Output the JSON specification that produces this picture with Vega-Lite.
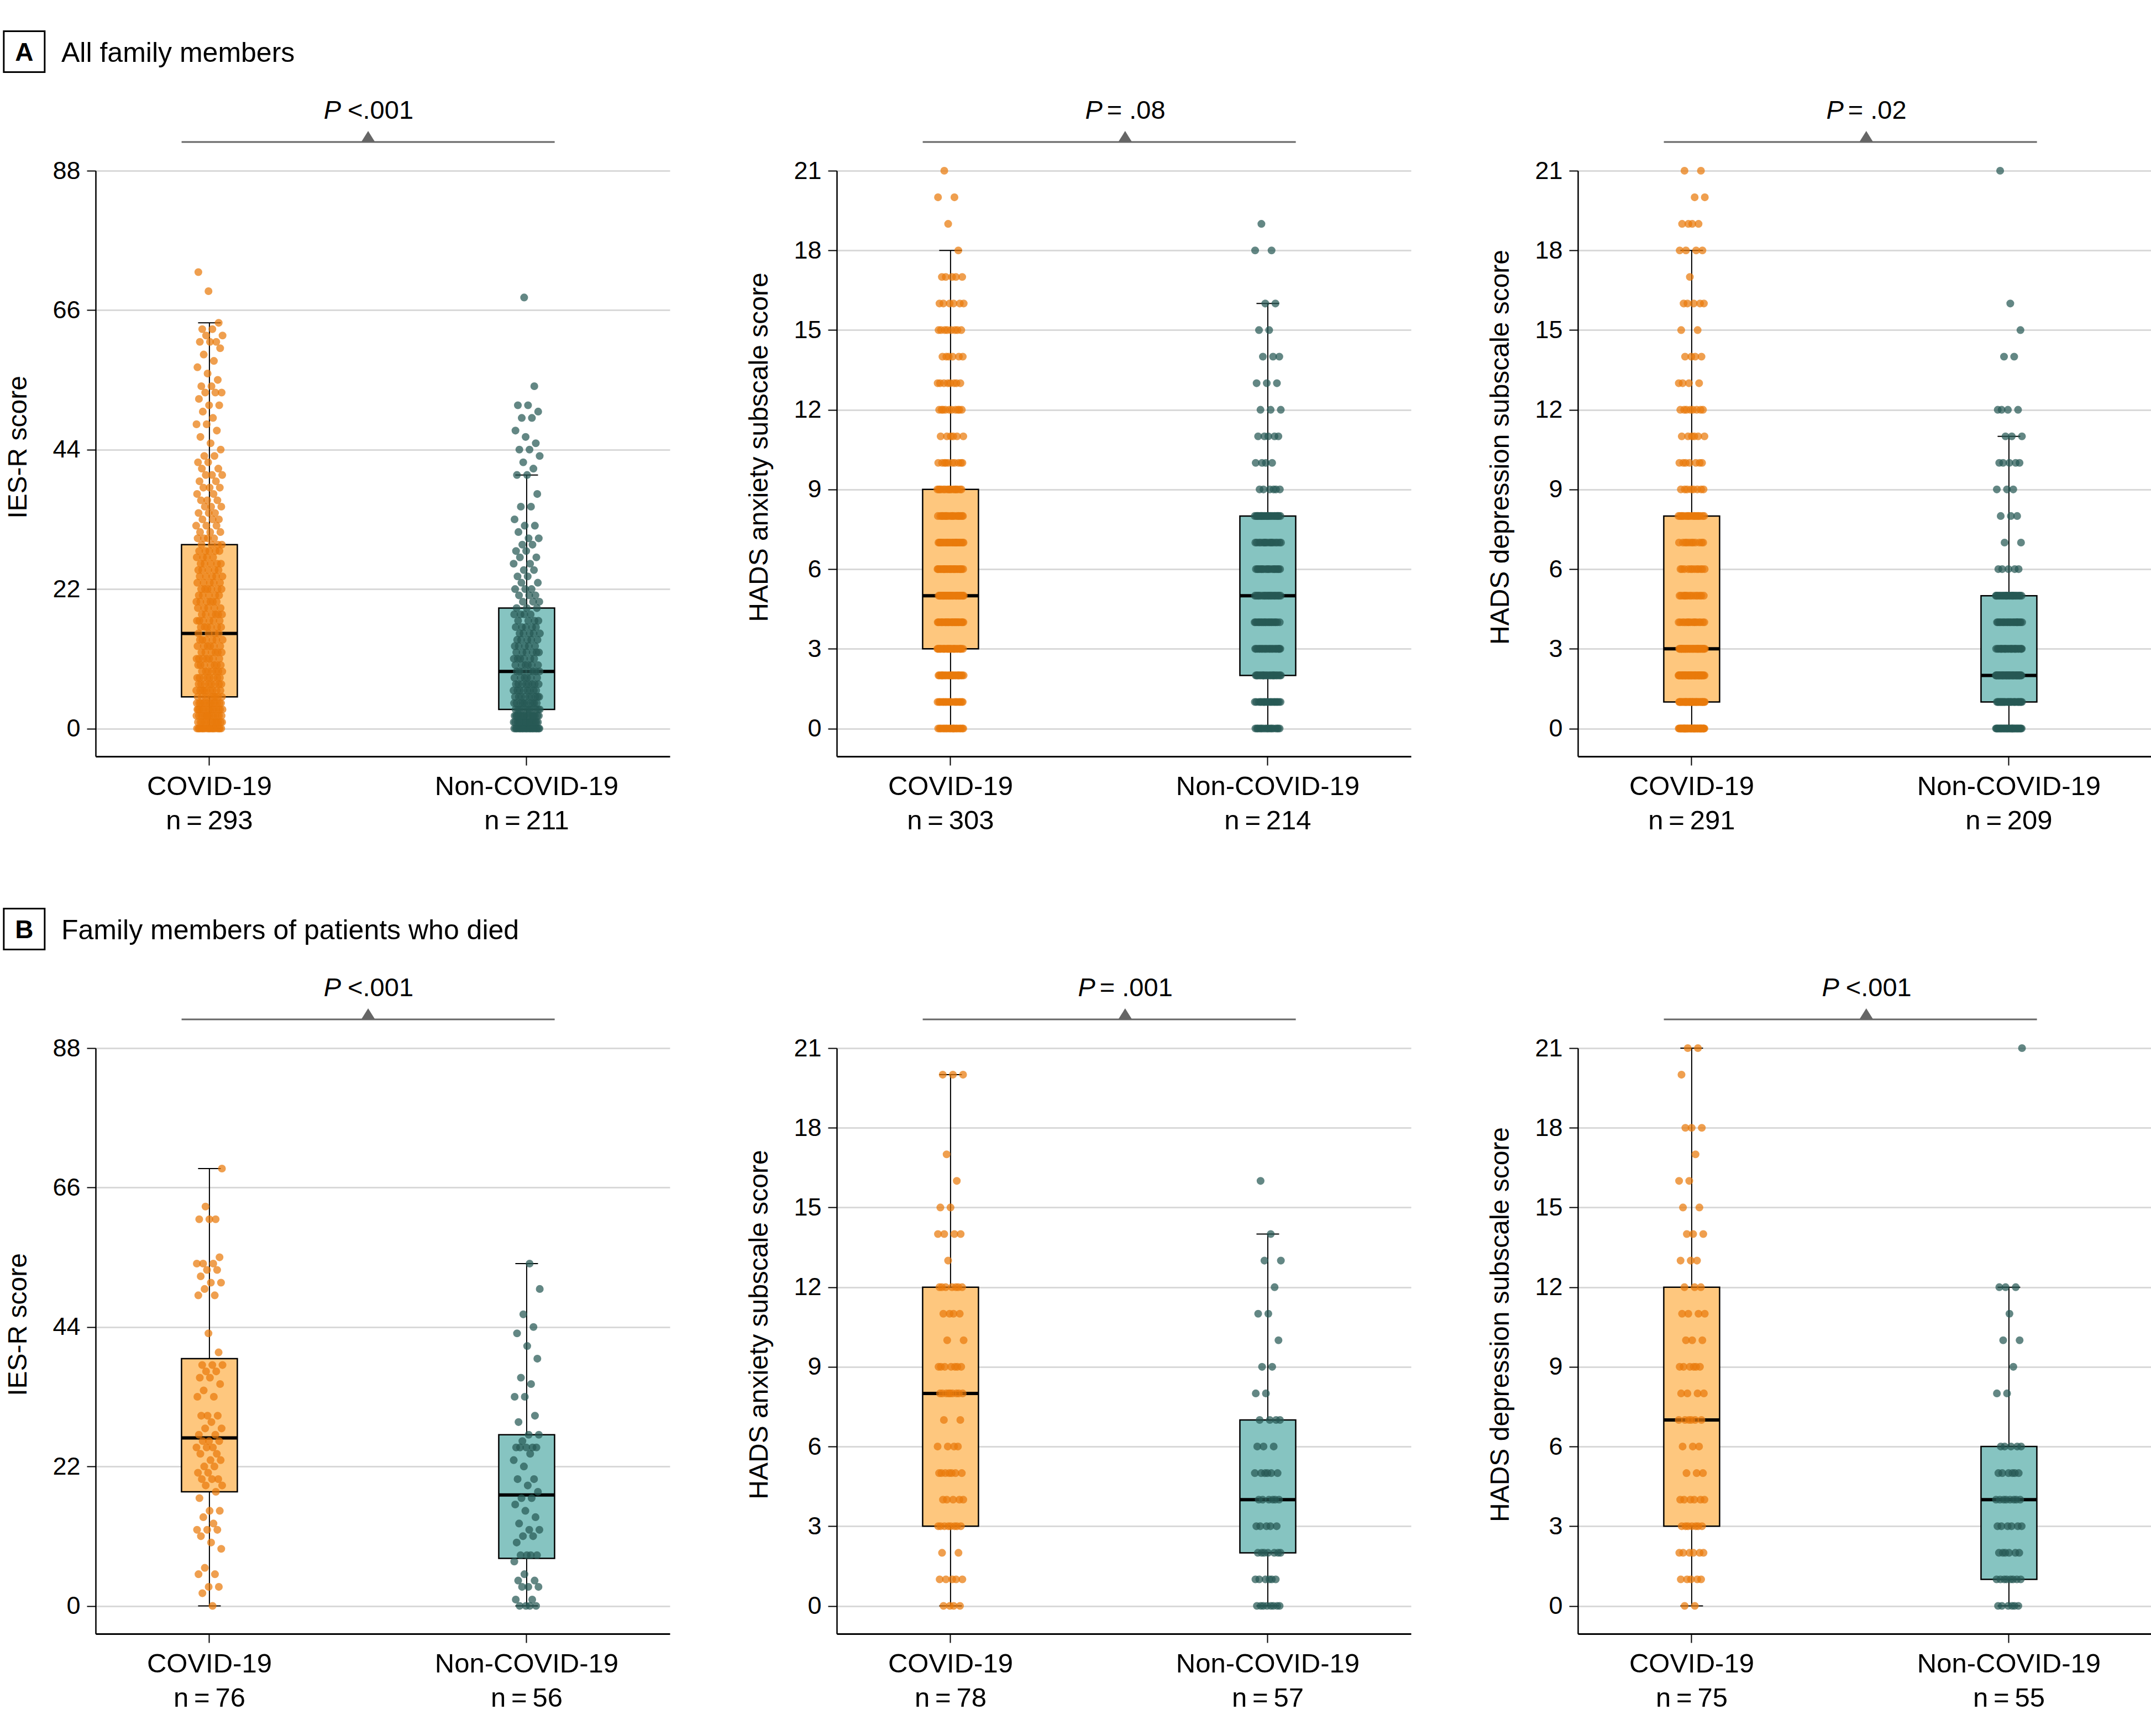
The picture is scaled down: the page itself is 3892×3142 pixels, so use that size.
{
"$schema": "https://vega.github.io/schema/vega-lite/v6.json",
"padding": {"left": 0, "top": 50, "right": 0, "bottom": 0},
"background": "white",
"columns": 3,
"spacing": {"row": 528, "column": 302},
"bounds": "flush",
"config": {
  "font": "Liberation Sans",
  "view": {"stroke": null},
  "axis": {"labelColor": "black", "titleColor": "black", "domainColor": "black", "tickColor": "black", "titleFontWeight": "normal"},
  "axisX": {"domainWidth": 3, "tickWidth": 2, "tickSize": 16, "labelFontSize": 49, "labelLineHeight": 62, "labelPadding": 14, "labelAngle": 0, "labelLimit": 0, "grid": false},
  "axisY": {"domainWidth": 2.5, "tickWidth": 2, "tickSize": 16, "labelFontSize": 45, "labelPadding": 12, "grid": true, "gridColor": "#D9D9D9", "gridWidth": 3, "titleFontSize": 48, "titleX": -126, "titleY": 500, "titleBaseline": "alphabetic", "titleAngle": 270}
},
"datasets": {
  "box": [
    {"p":"A1","g":"COVID-19","lo":0,"q1":5,"med":15,"q3":29,"hi":64},
    {"p":"A1","g":"Non-COVID-19","lo":0,"q1":3,"med":9,"q3":19,"hi":40},
    {"p":"A2","g":"COVID-19","lo":0,"q1":3,"med":5,"q3":9,"hi":18},
    {"p":"A2","g":"Non-COVID-19","lo":0,"q1":2,"med":5,"q3":8,"hi":16},
    {"p":"A3","g":"COVID-19","lo":0,"q1":1,"med":3,"q3":8,"hi":18},
    {"p":"A3","g":"Non-COVID-19","lo":0,"q1":1,"med":2,"q3":5,"hi":11},
    {"p":"B1","g":"COVID-19","lo":0,"q1":18,"med":26.5,"q3":39,"hi":69},
    {"p":"B1","g":"Non-COVID-19","lo":0,"q1":7.5,"med":17.5,"q3":27,"hi":54},
    {"p":"B2","g":"COVID-19","lo":0,"q1":3,"med":8,"q3":12,"hi":20},
    {"p":"B2","g":"Non-COVID-19","lo":0,"q1":2,"med":4,"q3":7,"hi":14},
    {"p":"B3","g":"COVID-19","lo":0,"q1":3,"med":7,"q3":12,"hi":21},
    {"p":"B3","g":"Non-COVID-19","lo":0,"q1":1,"med":4,"q3":6,"hi":12}
  ],
  "pts": [
    {"p":"A1","g":"COVID-19","v":[0,0,0,0,0,0,0,0,0,0,0,0,0,0,0,0,0,0,1,1,1,1,1,1,1,1,1,1,1,1,1,1,2,2,2,2,2,2,2,2,2,2,2,2,2,2,3,3,3,3,3,3,3,3,3,3,3,3,3,3,4,4,4,4,4,4,4,4,4,4,4,4,4,5,5,5,5,5,5,5,5,5,6,6,6,6,6,6,6,6,6,7,7,7,7,7,7,7,7,8,8,8,8,8,8,8,8,9,9,9,9,9,9,9,10,10,10,10,10,10,10,11,11,11,11,11,11,11,12,12,12,12,12,12,13,13,13,13,13,13,14,14,14,14,14,14,15,15,15,15,16,16,16,16,16,16,17,17,17,17,17,17,18,18,18,18,18,18,19,19,19,19,19,20,20,20,20,20,20,21,21,21,21,21,22,22,22,22,22,22,23,23,23,23,23,24,24,24,24,24,25,25,25,25,25,26,26,26,26,26,27,27,27,27,28,28,28,28,28,29,29,29,29,30,30,30,30,31,31,31,32,32,32,33,33,33,34,34,34,35,35,35,36,36,36,37,37,38,38,38,39,39,40,40,40,41,41,42,42,43,43,44,45,46,47,48,48,49,50,51,51,52,53,53,53,54,54,55,56,57,58,59,60,61,61,61,62,62,63,63,64,69,72]},
    {"p":"A1","g":"Non-COVID-19","v":[0,0,0,0,0,0,0,0,0,0,0,0,0,0,0,0,0,0,0,0,0,1,1,1,1,1,1,1,1,1,1,1,1,1,1,1,1,1,2,2,2,2,2,2,2,2,2,2,2,2,2,2,2,2,3,3,3,3,3,3,3,3,3,3,3,4,4,4,4,4,4,4,4,4,4,5,5,5,5,5,5,5,5,5,6,6,6,6,6,6,6,6,7,7,7,7,7,7,7,7,8,8,8,8,8,8,9,9,9,9,9,9,9,10,10,10,10,10,10,11,11,11,11,11,11,12,12,12,12,12,12,13,13,13,13,13,14,14,14,14,14,15,15,15,15,15,16,16,16,16,16,17,17,17,17,18,18,18,18,19,19,19,20,20,20,21,21,21,22,22,22,23,23,24,24,25,25,26,26,27,27,28,28,29,29,30,30,31,32,32,33,35,35,37,40,40,41,42,43,44,44,45,46,47,49,49,50,51,51,54,68]},
    {"p":"A2","g":"COVID-19","v":[0,0,0,0,0,0,0,0,0,0,0,0,0,0,0,0,0,0,0,0,0,0,1,1,1,1,1,1,1,1,1,1,1,1,1,1,1,1,1,1,1,1,2,2,2,2,2,2,2,2,2,2,2,2,2,2,2,2,2,2,2,2,2,2,2,2,3,3,3,3,3,3,3,3,3,3,3,3,3,3,3,3,3,3,3,3,3,3,3,3,3,3,3,3,4,4,4,4,4,4,4,4,4,4,4,4,4,4,4,4,4,4,4,4,4,4,4,4,4,4,4,4,4,4,5,5,5,5,5,5,5,5,5,5,5,5,5,5,5,5,5,5,5,5,5,5,5,5,5,5,5,5,5,5,5,5,6,6,6,6,6,6,6,6,6,6,6,6,6,6,6,6,6,6,6,6,6,6,6,6,6,6,7,7,7,7,7,7,7,7,7,7,7,7,7,7,7,7,7,7,7,7,7,7,7,8,8,8,8,8,8,8,8,8,8,8,8,8,8,8,8,8,8,9,9,9,9,9,9,9,9,9,9,9,9,9,9,9,9,10,10,10,10,10,10,10,10,10,10,11,11,11,11,11,11,12,12,12,12,12,12,12,12,12,12,13,13,13,13,13,13,13,13,14,14,14,14,14,14,15,15,15,15,15,15,15,15,16,16,16,16,16,16,17,17,17,17,17,18,19,20,20,21]},
    {"p":"A2","g":"Non-COVID-19","v":[0,0,0,0,0,0,0,0,0,0,0,0,0,0,0,0,0,0,1,1,1,1,1,1,1,1,1,1,1,1,1,1,1,1,1,1,1,1,2,2,2,2,2,2,2,2,2,2,2,2,2,2,2,2,2,2,2,2,2,2,2,2,3,3,3,3,3,3,3,3,3,3,3,3,3,3,3,3,3,3,3,3,3,3,4,4,4,4,4,4,4,4,4,4,4,4,4,4,4,4,4,4,4,4,5,5,5,5,5,5,5,5,5,5,5,5,5,5,5,5,5,5,5,5,6,6,6,6,6,6,6,6,6,6,6,6,6,6,6,6,6,6,7,7,7,7,7,7,7,7,7,7,7,7,7,7,7,7,8,8,8,8,8,8,8,8,8,8,8,8,8,8,8,8,8,8,8,8,8,8,8,8,8,9,9,9,9,9,9,10,10,10,10,11,11,11,11,11,12,12,12,13,13,13,14,14,14,15,15,16,16,18,18,19]},
    {"p":"A3","g":"COVID-19","v":[0,0,0,0,0,0,0,0,0,0,0,0,0,0,0,0,0,0,0,0,0,0,0,0,0,0,0,0,0,0,0,0,0,0,0,0,0,0,0,0,0,0,0,0,0,1,1,1,1,1,1,1,1,1,1,1,1,1,1,1,1,1,1,1,1,1,1,1,1,1,1,1,1,1,1,1,1,1,1,1,1,1,1,1,1,2,2,2,2,2,2,2,2,2,2,2,2,2,2,2,2,2,2,2,2,2,2,2,2,2,2,2,2,2,2,2,2,2,2,2,2,2,2,2,2,2,2,3,3,3,3,3,3,3,3,3,3,3,3,3,3,3,3,3,3,3,3,3,3,3,3,3,3,3,3,3,3,3,3,3,3,3,3,4,4,4,4,4,4,4,4,4,4,4,4,4,4,4,4,5,5,5,5,5,5,5,5,5,5,5,5,5,5,6,6,6,6,6,6,6,6,6,6,6,6,7,7,7,7,7,7,7,7,7,7,7,8,8,8,8,8,8,8,8,8,8,8,8,8,8,8,8,8,8,9,9,9,9,9,9,9,9,10,10,10,10,10,10,10,11,11,11,11,11,11,12,12,12,12,12,12,12,12,13,13,13,13,14,14,14,14,15,15,16,16,16,16,16,17,18,18,18,18,19,19,19,19,20,20,21,21]},
    {"p":"A3","g":"Non-COVID-19","v":[0,0,0,0,0,0,0,0,0,0,0,0,0,0,0,0,0,0,0,0,0,0,0,0,0,0,0,0,0,0,0,0,0,0,0,1,1,1,1,1,1,1,1,1,1,1,1,1,1,1,1,1,1,1,1,1,1,1,1,1,1,1,1,1,1,2,2,2,2,2,2,2,2,2,2,2,2,2,2,2,2,2,2,2,2,2,2,2,2,2,2,2,2,2,2,2,2,2,2,2,2,2,2,2,2,2,2,3,3,3,3,3,3,3,3,3,3,3,3,3,3,3,3,3,3,3,3,3,3,3,3,3,3,4,4,4,4,4,4,4,4,4,4,4,4,4,4,4,4,4,4,4,4,4,4,5,5,5,5,5,5,5,5,5,5,5,5,5,5,5,5,5,5,5,5,5,5,5,5,6,6,6,6,6,7,7,8,8,8,9,9,9,10,10,10,10,10,11,11,11,12,12,12,12,14,14,15,16,21]},
    {"p":"B1","g":"COVID-19","v":[0,2,3,3,5,5,6,9,10,11,12,12,12,13,14,15,15,17,18,19,19,20,20,20,21,21,22,22,23,23,24,24,25,25,25,26,26,26,27,27,28,28,29,30,30,30,33,33,34,35,36,36,37,37,38,38,38,40,43,49,49,50,51,51,52,53,53,54,54,54,55,61,61,61,63,69]},
    {"p":"B1","g":"Non-COVID-19","v":[0,0,0,0,1,1,3,3,3,4,4,5,7,8,8,8,8,10,11,11,12,12,13,14,15,16,17,17,18,19,20,20,22,23,24,25,25,25,25,25,26,27,27,29,30,33,33,35,36,39,41,43,44,46,50,54]},
    {"p":"B2","g":"COVID-19","v":[0,0,0,0,1,1,1,1,1,2,2,3,3,3,3,3,3,3,3,4,4,4,4,4,5,5,5,5,5,5,5,6,6,6,6,7,7,8,8,8,8,8,8,8,8,8,9,9,9,9,9,9,9,10,10,11,11,11,11,12,12,12,12,12,12,12,13,14,14,14,14,15,15,16,17,20,20,20]},
    {"p":"B2","g":"Non-COVID-19","v":[0,0,0,0,0,0,0,0,1,1,1,1,1,1,2,2,2,2,2,2,2,3,3,3,3,3,4,4,4,4,4,4,5,5,5,5,5,5,6,6,6,7,7,7,7,8,8,9,9,10,11,11,12,13,13,14,16]},
    {"p":"B3","g":"COVID-19","v":[0,0,1,1,1,1,1,2,2,2,2,2,2,3,3,3,3,3,3,3,4,4,4,4,4,4,5,5,5,6,6,6,7,7,7,7,7,7,8,8,8,8,9,9,9,9,9,9,10,10,10,11,11,11,11,12,12,12,13,13,13,14,14,14,15,15,16,16,17,18,18,18,20,21,21]},
    {"p":"B3","g":"Non-COVID-19","v":[0,0,0,0,0,0,1,1,1,1,1,1,1,1,2,2,2,2,2,2,3,3,3,3,3,3,4,4,4,4,4,4,4,4,5,5,5,5,5,5,6,6,6,6,6,8,8,9,10,10,11,12,12,12,21]}
  ]
},
"concat": [
{"width":1039,"height":1060,
"layer":[
{"encoding":{"x":{"field":"g","type":"nominal","title":null,"scale":{"domain":["COVID-19","Non-COVID-19"],"paddingInner":0.824,"paddingOuter":0.317,"align":0.427},"axis":{"labelExpr":"datum.value == 'COVID-19' ? ['COVID-19', 'n\u2009=\u2009293'] : ['Non-COVID-19', 'n\u2009=\u2009211']"}}},
"layer":[
{"data":{"name":"box"},"transform":[{"filter":"datum.p == 'A1'"}],"mark":{"type":"rule","color":"black","strokeWidth":2},"encoding":{"y":{"field":"lo","type":"quantitative","title":"IES-R score","scale":{"domain":[-4.4,88],"nice":false,"zero":false},"axis":{"values":[0,22,44,66,88]}},"y2":{"field":"hi"}}},
{"data":{"name":"box"},"transform":[{"filter":"datum.p == 'A1'"}],"mark":{"type":"bar","stroke":"black","strokeWidth":2.5,"width":101},"encoding":{"y":{"field":"q1","type":"quantitative","title":"IES-R score","scale":{"domain":[-4.4,88],"nice":false,"zero":false},"axis":{"values":[0,22,44,66,88]}},"y2":{"field":"q3"},"fill":{"condition":{"test":"datum.g == 'COVID-19'","value":"#FEC77E"},"value":"#86C4C1"}}},
{"data":{"name":"box"},"transform":[{"filter":"datum.p == 'A1'"}],"mark":{"type":"tick","color":"black","size":101,"thickness":6,"opacity":1},"encoding":{"y":{"field":"med","type":"quantitative","title":"IES-R score","scale":{"domain":[-4.4,88],"nice":false,"zero":false},"axis":{"values":[0,22,44,66,88]}}}},
{"data":{"name":"box"},"transform":[{"filter":"datum.p == 'A1'"}],"mark":{"type":"tick","color":"black","size":41,"thickness":2,"opacity":1},"encoding":{"y":{"field":"lo","type":"quantitative","title":"IES-R score","scale":{"domain":[-4.4,88],"nice":false,"zero":false},"axis":{"values":[0,22,44,66,88]}}}},
{"data":{"name":"box"},"transform":[{"filter":"datum.p == 'A1'"}],"mark":{"type":"tick","color":"black","size":41,"thickness":2,"opacity":1},"encoding":{"y":{"field":"hi","type":"quantitative","title":"IES-R score","scale":{"domain":[-4.4,88],"nice":false,"zero":false},"axis":{"values":[0,22,44,66,88]}}}},
{"data":{"name":"pts"},"transform":[{"filter":"datum.p == 'A1'"},{"flatten":["v"]},{"window":[{"op":"row_number","as":"idx"}],"groupby":["g"]},{"calculate":"(datum.idx * 0.6180339887) % 1 - 0.5","as":"jit"}],"mark":{"type":"circle","size":200,"opacity":0.72},"encoding":{"y":{"field":"v","type":"quantitative","title":"IES-R score","scale":{"domain":[-4.4,88],"nice":false,"zero":false},"axis":{"values":[0,22,44,66,88]}},"xOffset":{"field":"jit","type":"quantitative","scale":{"domain":[-1.05,1.05]}},"color":{"condition":{"test":"datum.g == 'COVID-19'","value":"#E97A0B"},"value":"#275955"}}}
]},
{"data":{"values":[{}]},
"layer":[
{"mark":{"type":"rule","color":"#666666","strokeWidth":3},"encoding":{"x":{"datum":0.912,"type":"quantitative","scale":{"domain":[0.641,2.451],"nice":false,"zero":false},"axis":null},"x2":{"datum":2.088},"y":{"datum":92.53,"type":"quantitative","scale":{"domain":[-4.4,88],"nice":false,"zero":false},"axis":null}}},
{"mark":{"type":"point","shape":"M-1,0L0,-1.6L1,0Z","size":625,"filled":true,"color":"#666666","opacity":1,"strokeWidth":0},"encoding":{"x":{"datum":1.5,"type":"quantitative","scale":{"domain":[0.641,2.451],"nice":false,"zero":false},"axis":null},"y":{"datum":92.53,"type":"quantitative","scale":{"domain":[-4.4,88],"nice":false,"zero":false},"axis":null}}},
{"mark":{"type":"text","text":"P","fontStyle":"italic","fontSize":47,"align":"right","baseline":"alphabetic","dx":-49},"encoding":{"x":{"datum":1.5,"type":"quantitative","scale":{"domain":[0.641,2.451],"nice":false,"zero":false},"axis":null},"y":{"datum":96.19,"type":"quantitative","scale":{"domain":[-4.4,88],"nice":false,"zero":false},"axis":null}}},
{"mark":{"type":"text","text":"<.001","fontSize":47,"align":"left","baseline":"alphabetic","dx":-37},"encoding":{"x":{"datum":1.5,"type":"quantitative","scale":{"domain":[0.641,2.451],"nice":false,"zero":false},"axis":null},"y":{"datum":96.19,"type":"quantitative","scale":{"domain":[-4.4,88],"nice":false,"zero":false},"axis":null}}},
{"mark":{"type":"point","shape":"square","size":5476,"filled":false,"stroke":"black","strokeWidth":3,"opacity":1},"encoding":{"x":{"datum":0.416,"type":"quantitative","scale":{"domain":[0.641,2.451],"nice":false,"zero":false},"axis":null},"y":{"datum":106.78,"type":"quantitative","scale":{"domain":[-4.4,88],"nice":false,"zero":false},"axis":null}}},
{"mark":{"type":"text","text":"A","fontWeight":"bold","fontSize":46,"align":"center","baseline":"alphabetic"},"encoding":{"x":{"datum":0.416,"type":"quantitative","scale":{"domain":[0.641,2.451],"nice":false,"zero":false},"axis":null},"y":{"datum":105.34,"type":"quantitative","scale":{"domain":[-4.4,88],"nice":false,"zero":false},"axis":null}}},
{"mark":{"type":"text","text":"All family members","fontSize":50,"align":"left","baseline":"alphabetic"},"encoding":{"x":{"datum":0.533,"type":"quantitative","scale":{"domain":[0.641,2.451],"nice":false,"zero":false},"axis":null},"y":{"datum":105.16,"type":"quantitative","scale":{"domain":[-4.4,88],"nice":false,"zero":false},"axis":null}}}
]}
],
"resolve":{"scale":{"x":"independent","y":"independent"}}},

{"width":1039,"height":1060,
"layer":[
{"encoding":{"x":{"field":"g","type":"nominal","title":null,"scale":{"domain":["COVID-19","Non-COVID-19"],"paddingInner":0.824,"paddingOuter":0.317,"align":0.427},"axis":{"labelExpr":"datum.value == 'COVID-19' ? ['COVID-19', 'n\u2009=\u2009303'] : ['Non-COVID-19', 'n\u2009=\u2009214']"}}},
"layer":[
{"data":{"name":"box"},"transform":[{"filter":"datum.p == 'A2'"}],"mark":{"type":"rule","color":"black","strokeWidth":2},"encoding":{"y":{"field":"lo","type":"quantitative","title":"HADS anxiety subscale score","scale":{"domain":[-1.05,21],"nice":false,"zero":false},"axis":{"values":[0,3,6,9,12,15,18,21]}},"y2":{"field":"hi"}}},
{"data":{"name":"box"},"transform":[{"filter":"datum.p == 'A2'"}],"mark":{"type":"bar","stroke":"black","strokeWidth":2.5,"width":101},"encoding":{"y":{"field":"q1","type":"quantitative","title":"HADS anxiety subscale score","scale":{"domain":[-1.05,21],"nice":false,"zero":false},"axis":{"values":[0,3,6,9,12,15,18,21]}},"y2":{"field":"q3"},"fill":{"condition":{"test":"datum.g == 'COVID-19'","value":"#FEC77E"},"value":"#86C4C1"}}},
{"data":{"name":"box"},"transform":[{"filter":"datum.p == 'A2'"}],"mark":{"type":"tick","color":"black","size":101,"thickness":6,"opacity":1},"encoding":{"y":{"field":"med","type":"quantitative","title":"HADS anxiety subscale score","scale":{"domain":[-1.05,21],"nice":false,"zero":false},"axis":{"values":[0,3,6,9,12,15,18,21]}}}},
{"data":{"name":"box"},"transform":[{"filter":"datum.p == 'A2'"}],"mark":{"type":"tick","color":"black","size":41,"thickness":2,"opacity":1},"encoding":{"y":{"field":"lo","type":"quantitative","title":"HADS anxiety subscale score","scale":{"domain":[-1.05,21],"nice":false,"zero":false},"axis":{"values":[0,3,6,9,12,15,18,21]}}}},
{"data":{"name":"box"},"transform":[{"filter":"datum.p == 'A2'"}],"mark":{"type":"tick","color":"black","size":41,"thickness":2,"opacity":1},"encoding":{"y":{"field":"hi","type":"quantitative","title":"HADS anxiety subscale score","scale":{"domain":[-1.05,21],"nice":false,"zero":false},"axis":{"values":[0,3,6,9,12,15,18,21]}}}},
{"data":{"name":"pts"},"transform":[{"filter":"datum.p == 'A2'"},{"flatten":["v"]},{"window":[{"op":"row_number","as":"idx"}],"groupby":["g"]},{"calculate":"(datum.idx * 0.6180339887) % 1 - 0.5","as":"jit"}],"mark":{"type":"circle","size":200,"opacity":0.72},"encoding":{"y":{"field":"v","type":"quantitative","title":"HADS anxiety subscale score","scale":{"domain":[-1.05,21],"nice":false,"zero":false},"axis":{"values":[0,3,6,9,12,15,18,21]}},"xOffset":{"field":"jit","type":"quantitative","scale":{"domain":[-1.05,1.05]}},"color":{"condition":{"test":"datum.g == 'COVID-19'","value":"#E97A0B"},"value":"#275955"}}}
]},
{"data":{"values":[{}]},
"layer":[
{"mark":{"type":"rule","color":"#666666","strokeWidth":3},"encoding":{"x":{"datum":0.912,"type":"quantitative","scale":{"domain":[0.641,2.451],"nice":false,"zero":false},"axis":null},"x2":{"datum":2.088},"y":{"datum":22.081,"type":"quantitative","scale":{"domain":[-1.05,21],"nice":false,"zero":false},"axis":null}}},
{"mark":{"type":"point","shape":"M-1,0L0,-1.6L1,0Z","size":625,"filled":true,"color":"#666666","opacity":1,"strokeWidth":0},"encoding":{"x":{"datum":1.55,"type":"quantitative","scale":{"domain":[0.641,2.451],"nice":false,"zero":false},"axis":null},"y":{"datum":22.081,"type":"quantitative","scale":{"domain":[-1.05,21],"nice":false,"zero":false},"axis":null}}},
{"mark":{"type":"text","text":"P","fontStyle":"italic","fontSize":47,"align":"right","baseline":"alphabetic","dx":-41},"encoding":{"x":{"datum":1.55,"type":"quantitative","scale":{"domain":[0.641,2.451],"nice":false,"zero":false},"axis":null},"y":{"datum":22.954,"type":"quantitative","scale":{"domain":[-1.05,21],"nice":false,"zero":false},"axis":null}}},
{"mark":{"type":"text","text":"= .08","fontSize":47,"align":"left","baseline":"alphabetic","dx":-33},"encoding":{"x":{"datum":1.55,"type":"quantitative","scale":{"domain":[0.641,2.451],"nice":false,"zero":false},"axis":null},"y":{"datum":22.954,"type":"quantitative","scale":{"domain":[-1.05,21],"nice":false,"zero":false},"axis":null}}}
]}
],
"resolve":{"scale":{"x":"independent","y":"independent"}}},

{"width":1039,"height":1060,
"layer":[
{"encoding":{"x":{"field":"g","type":"nominal","title":null,"scale":{"domain":["COVID-19","Non-COVID-19"],"paddingInner":0.824,"paddingOuter":0.317,"align":0.427},"axis":{"labelExpr":"datum.value == 'COVID-19' ? ['COVID-19', 'n\u2009=\u2009291'] : ['Non-COVID-19', 'n\u2009=\u2009209']"}}},
"layer":[
{"data":{"name":"box"},"transform":[{"filter":"datum.p == 'A3'"}],"mark":{"type":"rule","color":"black","strokeWidth":2},"encoding":{"y":{"field":"lo","type":"quantitative","title":"HADS depression subscale score","scale":{"domain":[-1.05,21],"nice":false,"zero":false},"axis":{"values":[0,3,6,9,12,15,18,21]}},"y2":{"field":"hi"}}},
{"data":{"name":"box"},"transform":[{"filter":"datum.p == 'A3'"}],"mark":{"type":"bar","stroke":"black","strokeWidth":2.5,"width":101},"encoding":{"y":{"field":"q1","type":"quantitative","title":"HADS depression subscale score","scale":{"domain":[-1.05,21],"nice":false,"zero":false},"axis":{"values":[0,3,6,9,12,15,18,21]}},"y2":{"field":"q3"},"fill":{"condition":{"test":"datum.g == 'COVID-19'","value":"#FEC77E"},"value":"#86C4C1"}}},
{"data":{"name":"box"},"transform":[{"filter":"datum.p == 'A3'"}],"mark":{"type":"tick","color":"black","size":101,"thickness":6,"opacity":1},"encoding":{"y":{"field":"med","type":"quantitative","title":"HADS depression subscale score","scale":{"domain":[-1.05,21],"nice":false,"zero":false},"axis":{"values":[0,3,6,9,12,15,18,21]}}}},
{"data":{"name":"box"},"transform":[{"filter":"datum.p == 'A3'"}],"mark":{"type":"tick","color":"black","size":41,"thickness":2,"opacity":1},"encoding":{"y":{"field":"lo","type":"quantitative","title":"HADS depression subscale score","scale":{"domain":[-1.05,21],"nice":false,"zero":false},"axis":{"values":[0,3,6,9,12,15,18,21]}}}},
{"data":{"name":"box"},"transform":[{"filter":"datum.p == 'A3'"}],"mark":{"type":"tick","color":"black","size":41,"thickness":2,"opacity":1},"encoding":{"y":{"field":"hi","type":"quantitative","title":"HADS depression subscale score","scale":{"domain":[-1.05,21],"nice":false,"zero":false},"axis":{"values":[0,3,6,9,12,15,18,21]}}}},
{"data":{"name":"pts"},"transform":[{"filter":"datum.p == 'A3'"},{"flatten":["v"]},{"window":[{"op":"row_number","as":"idx"}],"groupby":["g"]},{"calculate":"(datum.idx * 0.6180339887) % 1 - 0.5","as":"jit"}],"mark":{"type":"circle","size":200,"opacity":0.72},"encoding":{"y":{"field":"v","type":"quantitative","title":"HADS depression subscale score","scale":{"domain":[-1.05,21],"nice":false,"zero":false},"axis":{"values":[0,3,6,9,12,15,18,21]}},"xOffset":{"field":"jit","type":"quantitative","scale":{"domain":[-1.05,1.05]}},"color":{"condition":{"test":"datum.g == 'COVID-19'","value":"#E97A0B"},"value":"#275955"}}}
]},
{"data":{"values":[{}]},
"layer":[
{"mark":{"type":"rule","color":"#666666","strokeWidth":3},"encoding":{"x":{"datum":0.912,"type":"quantitative","scale":{"domain":[0.641,2.451],"nice":false,"zero":false},"axis":null},"x2":{"datum":2.088},"y":{"datum":22.081,"type":"quantitative","scale":{"domain":[-1.05,21],"nice":false,"zero":false},"axis":null}}},
{"mark":{"type":"point","shape":"M-1,0L0,-1.6L1,0Z","size":625,"filled":true,"color":"#666666","opacity":1,"strokeWidth":0},"encoding":{"x":{"datum":1.55,"type":"quantitative","scale":{"domain":[0.641,2.451],"nice":false,"zero":false},"axis":null},"y":{"datum":22.081,"type":"quantitative","scale":{"domain":[-1.05,21],"nice":false,"zero":false},"axis":null}}},
{"mark":{"type":"text","text":"P","fontStyle":"italic","fontSize":47,"align":"right","baseline":"alphabetic","dx":-41},"encoding":{"x":{"datum":1.55,"type":"quantitative","scale":{"domain":[0.641,2.451],"nice":false,"zero":false},"axis":null},"y":{"datum":22.954,"type":"quantitative","scale":{"domain":[-1.05,21],"nice":false,"zero":false},"axis":null}}},
{"mark":{"type":"text","text":"= .02","fontSize":47,"align":"left","baseline":"alphabetic","dx":-33},"encoding":{"x":{"datum":1.55,"type":"quantitative","scale":{"domain":[0.641,2.451],"nice":false,"zero":false},"axis":null},"y":{"datum":22.954,"type":"quantitative","scale":{"domain":[-1.05,21],"nice":false,"zero":false},"axis":null}}}
]}
],
"resolve":{"scale":{"x":"independent","y":"independent"}}},

{"width":1039,"height":1060,
"layer":[
{"encoding":{"x":{"field":"g","type":"nominal","title":null,"scale":{"domain":["COVID-19","Non-COVID-19"],"paddingInner":0.824,"paddingOuter":0.317,"align":0.427},"axis":{"labelExpr":"datum.value == 'COVID-19' ? ['COVID-19', 'n\u2009=\u200976'] : ['Non-COVID-19', 'n\u2009=\u200956']"}}},
"layer":[
{"data":{"name":"box"},"transform":[{"filter":"datum.p == 'B1'"}],"mark":{"type":"rule","color":"black","strokeWidth":2},"encoding":{"y":{"field":"lo","type":"quantitative","title":"IES-R score","scale":{"domain":[-4.4,88],"nice":false,"zero":false},"axis":{"values":[0,22,44,66,88]}},"y2":{"field":"hi"}}},
{"data":{"name":"box"},"transform":[{"filter":"datum.p == 'B1'"}],"mark":{"type":"bar","stroke":"black","strokeWidth":2.5,"width":101},"encoding":{"y":{"field":"q1","type":"quantitative","title":"IES-R score","scale":{"domain":[-4.4,88],"nice":false,"zero":false},"axis":{"values":[0,22,44,66,88]}},"y2":{"field":"q3"},"fill":{"condition":{"test":"datum.g == 'COVID-19'","value":"#FEC77E"},"value":"#86C4C1"}}},
{"data":{"name":"box"},"transform":[{"filter":"datum.p == 'B1'"}],"mark":{"type":"tick","color":"black","size":101,"thickness":6,"opacity":1},"encoding":{"y":{"field":"med","type":"quantitative","title":"IES-R score","scale":{"domain":[-4.4,88],"nice":false,"zero":false},"axis":{"values":[0,22,44,66,88]}}}},
{"data":{"name":"box"},"transform":[{"filter":"datum.p == 'B1'"}],"mark":{"type":"tick","color":"black","size":41,"thickness":2,"opacity":1},"encoding":{"y":{"field":"lo","type":"quantitative","title":"IES-R score","scale":{"domain":[-4.4,88],"nice":false,"zero":false},"axis":{"values":[0,22,44,66,88]}}}},
{"data":{"name":"box"},"transform":[{"filter":"datum.p == 'B1'"}],"mark":{"type":"tick","color":"black","size":41,"thickness":2,"opacity":1},"encoding":{"y":{"field":"hi","type":"quantitative","title":"IES-R score","scale":{"domain":[-4.4,88],"nice":false,"zero":false},"axis":{"values":[0,22,44,66,88]}}}},
{"data":{"name":"pts"},"transform":[{"filter":"datum.p == 'B1'"},{"flatten":["v"]},{"window":[{"op":"row_number","as":"idx"}],"groupby":["g"]},{"calculate":"(datum.idx * 0.6180339887) % 1 - 0.5","as":"jit"}],"mark":{"type":"circle","size":200,"opacity":0.72},"encoding":{"y":{"field":"v","type":"quantitative","title":"IES-R score","scale":{"domain":[-4.4,88],"nice":false,"zero":false},"axis":{"values":[0,22,44,66,88]}},"xOffset":{"field":"jit","type":"quantitative","scale":{"domain":[-1.05,1.05]}},"color":{"condition":{"test":"datum.g == 'COVID-19'","value":"#E97A0B"},"value":"#275955"}}}
]},
{"data":{"values":[{}]},
"layer":[
{"mark":{"type":"rule","color":"#666666","strokeWidth":3},"encoding":{"x":{"datum":0.912,"type":"quantitative","scale":{"domain":[0.641,2.451],"nice":false,"zero":false},"axis":null},"x2":{"datum":2.088},"y":{"datum":92.53,"type":"quantitative","scale":{"domain":[-4.4,88],"nice":false,"zero":false},"axis":null}}},
{"mark":{"type":"point","shape":"M-1,0L0,-1.6L1,0Z","size":625,"filled":true,"color":"#666666","opacity":1,"strokeWidth":0},"encoding":{"x":{"datum":1.5,"type":"quantitative","scale":{"domain":[0.641,2.451],"nice":false,"zero":false},"axis":null},"y":{"datum":92.53,"type":"quantitative","scale":{"domain":[-4.4,88],"nice":false,"zero":false},"axis":null}}},
{"mark":{"type":"text","text":"P","fontStyle":"italic","fontSize":47,"align":"right","baseline":"alphabetic","dx":-49},"encoding":{"x":{"datum":1.5,"type":"quantitative","scale":{"domain":[0.641,2.451],"nice":false,"zero":false},"axis":null},"y":{"datum":96.19,"type":"quantitative","scale":{"domain":[-4.4,88],"nice":false,"zero":false},"axis":null}}},
{"mark":{"type":"text","text":"<.001","fontSize":47,"align":"left","baseline":"alphabetic","dx":-37},"encoding":{"x":{"datum":1.5,"type":"quantitative","scale":{"domain":[0.641,2.451],"nice":false,"zero":false},"axis":null},"y":{"datum":96.19,"type":"quantitative","scale":{"domain":[-4.4,88],"nice":false,"zero":false},"axis":null}}},
{"mark":{"type":"point","shape":"square","size":5476,"filled":false,"stroke":"black","strokeWidth":3,"opacity":1},"encoding":{"x":{"datum":0.416,"type":"quantitative","scale":{"domain":[0.641,2.451],"nice":false,"zero":false},"axis":null},"y":{"datum":106.78,"type":"quantitative","scale":{"domain":[-4.4,88],"nice":false,"zero":false},"axis":null}}},
{"mark":{"type":"text","text":"B","fontWeight":"bold","fontSize":46,"align":"center","baseline":"alphabetic"},"encoding":{"x":{"datum":0.416,"type":"quantitative","scale":{"domain":[0.641,2.451],"nice":false,"zero":false},"axis":null},"y":{"datum":105.34,"type":"quantitative","scale":{"domain":[-4.4,88],"nice":false,"zero":false},"axis":null}}},
{"mark":{"type":"text","text":"Family members of patients who died","fontSize":50,"align":"left","baseline":"alphabetic"},"encoding":{"x":{"datum":0.533,"type":"quantitative","scale":{"domain":[0.641,2.451],"nice":false,"zero":false},"axis":null},"y":{"datum":105.16,"type":"quantitative","scale":{"domain":[-4.4,88],"nice":false,"zero":false},"axis":null}}}
]}
],
"resolve":{"scale":{"x":"independent","y":"independent"}}},

{"width":1039,"height":1060,
"layer":[
{"encoding":{"x":{"field":"g","type":"nominal","title":null,"scale":{"domain":["COVID-19","Non-COVID-19"],"paddingInner":0.824,"paddingOuter":0.317,"align":0.427},"axis":{"labelExpr":"datum.value == 'COVID-19' ? ['COVID-19', 'n\u2009=\u200978'] : ['Non-COVID-19', 'n\u2009=\u200957']"}}},
"layer":[
{"data":{"name":"box"},"transform":[{"filter":"datum.p == 'B2'"}],"mark":{"type":"rule","color":"black","strokeWidth":2},"encoding":{"y":{"field":"lo","type":"quantitative","title":"HADS anxiety subscale score","scale":{"domain":[-1.05,21],"nice":false,"zero":false},"axis":{"values":[0,3,6,9,12,15,18,21]}},"y2":{"field":"hi"}}},
{"data":{"name":"box"},"transform":[{"filter":"datum.p == 'B2'"}],"mark":{"type":"bar","stroke":"black","strokeWidth":2.5,"width":101},"encoding":{"y":{"field":"q1","type":"quantitative","title":"HADS anxiety subscale score","scale":{"domain":[-1.05,21],"nice":false,"zero":false},"axis":{"values":[0,3,6,9,12,15,18,21]}},"y2":{"field":"q3"},"fill":{"condition":{"test":"datum.g == 'COVID-19'","value":"#FEC77E"},"value":"#86C4C1"}}},
{"data":{"name":"box"},"transform":[{"filter":"datum.p == 'B2'"}],"mark":{"type":"tick","color":"black","size":101,"thickness":6,"opacity":1},"encoding":{"y":{"field":"med","type":"quantitative","title":"HADS anxiety subscale score","scale":{"domain":[-1.05,21],"nice":false,"zero":false},"axis":{"values":[0,3,6,9,12,15,18,21]}}}},
{"data":{"name":"box"},"transform":[{"filter":"datum.p == 'B2'"}],"mark":{"type":"tick","color":"black","size":41,"thickness":2,"opacity":1},"encoding":{"y":{"field":"lo","type":"quantitative","title":"HADS anxiety subscale score","scale":{"domain":[-1.05,21],"nice":false,"zero":false},"axis":{"values":[0,3,6,9,12,15,18,21]}}}},
{"data":{"name":"box"},"transform":[{"filter":"datum.p == 'B2'"}],"mark":{"type":"tick","color":"black","size":41,"thickness":2,"opacity":1},"encoding":{"y":{"field":"hi","type":"quantitative","title":"HADS anxiety subscale score","scale":{"domain":[-1.05,21],"nice":false,"zero":false},"axis":{"values":[0,3,6,9,12,15,18,21]}}}},
{"data":{"name":"pts"},"transform":[{"filter":"datum.p == 'B2'"},{"flatten":["v"]},{"window":[{"op":"row_number","as":"idx"}],"groupby":["g"]},{"calculate":"(datum.idx * 0.6180339887) % 1 - 0.5","as":"jit"}],"mark":{"type":"circle","size":200,"opacity":0.72},"encoding":{"y":{"field":"v","type":"quantitative","title":"HADS anxiety subscale score","scale":{"domain":[-1.05,21],"nice":false,"zero":false},"axis":{"values":[0,3,6,9,12,15,18,21]}},"xOffset":{"field":"jit","type":"quantitative","scale":{"domain":[-1.05,1.05]}},"color":{"condition":{"test":"datum.g == 'COVID-19'","value":"#E97A0B"},"value":"#275955"}}}
]},
{"data":{"values":[{}]},
"layer":[
{"mark":{"type":"rule","color":"#666666","strokeWidth":3},"encoding":{"x":{"datum":0.912,"type":"quantitative","scale":{"domain":[0.641,2.451],"nice":false,"zero":false},"axis":null},"x2":{"datum":2.088},"y":{"datum":22.081,"type":"quantitative","scale":{"domain":[-1.05,21],"nice":false,"zero":false},"axis":null}}},
{"mark":{"type":"point","shape":"M-1,0L0,-1.6L1,0Z","size":625,"filled":true,"color":"#666666","opacity":1,"strokeWidth":0},"encoding":{"x":{"datum":1.55,"type":"quantitative","scale":{"domain":[0.641,2.451],"nice":false,"zero":false},"axis":null},"y":{"datum":22.081,"type":"quantitative","scale":{"domain":[-1.05,21],"nice":false,"zero":false},"axis":null}}},
{"mark":{"type":"text","text":"P","fontStyle":"italic","fontSize":47,"align":"right","baseline":"alphabetic","dx":-54},"encoding":{"x":{"datum":1.55,"type":"quantitative","scale":{"domain":[0.641,2.451],"nice":false,"zero":false},"axis":null},"y":{"datum":22.954,"type":"quantitative","scale":{"domain":[-1.05,21],"nice":false,"zero":false},"axis":null}}},
{"mark":{"type":"text","text":"= .001","fontSize":47,"align":"left","baseline":"alphabetic","dx":-46},"encoding":{"x":{"datum":1.55,"type":"quantitative","scale":{"domain":[0.641,2.451],"nice":false,"zero":false},"axis":null},"y":{"datum":22.954,"type":"quantitative","scale":{"domain":[-1.05,21],"nice":false,"zero":false},"axis":null}}}
]}
],
"resolve":{"scale":{"x":"independent","y":"independent"}}},

{"width":1039,"height":1060,
"layer":[
{"encoding":{"x":{"field":"g","type":"nominal","title":null,"scale":{"domain":["COVID-19","Non-COVID-19"],"paddingInner":0.824,"paddingOuter":0.317,"align":0.427},"axis":{"labelExpr":"datum.value == 'COVID-19' ? ['COVID-19', 'n\u2009=\u200975'] : ['Non-COVID-19', 'n\u2009=\u200955']"}}},
"layer":[
{"data":{"name":"box"},"transform":[{"filter":"datum.p == 'B3'"}],"mark":{"type":"rule","color":"black","strokeWidth":2},"encoding":{"y":{"field":"lo","type":"quantitative","title":"HADS depression subscale score","scale":{"domain":[-1.05,21],"nice":false,"zero":false},"axis":{"values":[0,3,6,9,12,15,18,21]}},"y2":{"field":"hi"}}},
{"data":{"name":"box"},"transform":[{"filter":"datum.p == 'B3'"}],"mark":{"type":"bar","stroke":"black","strokeWidth":2.5,"width":101},"encoding":{"y":{"field":"q1","type":"quantitative","title":"HADS depression subscale score","scale":{"domain":[-1.05,21],"nice":false,"zero":false},"axis":{"values":[0,3,6,9,12,15,18,21]}},"y2":{"field":"q3"},"fill":{"condition":{"test":"datum.g == 'COVID-19'","value":"#FEC77E"},"value":"#86C4C1"}}},
{"data":{"name":"box"},"transform":[{"filter":"datum.p == 'B3'"}],"mark":{"type":"tick","color":"black","size":101,"thickness":6,"opacity":1},"encoding":{"y":{"field":"med","type":"quantitative","title":"HADS depression subscale score","scale":{"domain":[-1.05,21],"nice":false,"zero":false},"axis":{"values":[0,3,6,9,12,15,18,21]}}}},
{"data":{"name":"box"},"transform":[{"filter":"datum.p == 'B3'"}],"mark":{"type":"tick","color":"black","size":41,"thickness":2,"opacity":1},"encoding":{"y":{"field":"lo","type":"quantitative","title":"HADS depression subscale score","scale":{"domain":[-1.05,21],"nice":false,"zero":false},"axis":{"values":[0,3,6,9,12,15,18,21]}}}},
{"data":{"name":"box"},"transform":[{"filter":"datum.p == 'B3'"}],"mark":{"type":"tick","color":"black","size":41,"thickness":2,"opacity":1},"encoding":{"y":{"field":"hi","type":"quantitative","title":"HADS depression subscale score","scale":{"domain":[-1.05,21],"nice":false,"zero":false},"axis":{"values":[0,3,6,9,12,15,18,21]}}}},
{"data":{"name":"pts"},"transform":[{"filter":"datum.p == 'B3'"},{"flatten":["v"]},{"window":[{"op":"row_number","as":"idx"}],"groupby":["g"]},{"calculate":"(datum.idx * 0.6180339887) % 1 - 0.5","as":"jit"}],"mark":{"type":"circle","size":200,"opacity":0.72},"encoding":{"y":{"field":"v","type":"quantitative","title":"HADS depression subscale score","scale":{"domain":[-1.05,21],"nice":false,"zero":false},"axis":{"values":[0,3,6,9,12,15,18,21]}},"xOffset":{"field":"jit","type":"quantitative","scale":{"domain":[-1.05,1.05]}},"color":{"condition":{"test":"datum.g == 'COVID-19'","value":"#E97A0B"},"value":"#275955"}}}
]},
{"data":{"values":[{}]},
"layer":[
{"mark":{"type":"rule","color":"#666666","strokeWidth":3},"encoding":{"x":{"datum":0.912,"type":"quantitative","scale":{"domain":[0.641,2.451],"nice":false,"zero":false},"axis":null},"x2":{"datum":2.088},"y":{"datum":22.081,"type":"quantitative","scale":{"domain":[-1.05,21],"nice":false,"zero":false},"axis":null}}},
{"mark":{"type":"point","shape":"M-1,0L0,-1.6L1,0Z","size":625,"filled":true,"color":"#666666","opacity":1,"strokeWidth":0},"encoding":{"x":{"datum":1.55,"type":"quantitative","scale":{"domain":[0.641,2.451],"nice":false,"zero":false},"axis":null},"y":{"datum":22.081,"type":"quantitative","scale":{"domain":[-1.05,21],"nice":false,"zero":false},"axis":null}}},
{"mark":{"type":"text","text":"P","fontStyle":"italic","fontSize":47,"align":"right","baseline":"alphabetic","dx":-49},"encoding":{"x":{"datum":1.55,"type":"quantitative","scale":{"domain":[0.641,2.451],"nice":false,"zero":false},"axis":null},"y":{"datum":22.954,"type":"quantitative","scale":{"domain":[-1.05,21],"nice":false,"zero":false},"axis":null}}},
{"mark":{"type":"text","text":"<.001","fontSize":47,"align":"left","baseline":"alphabetic","dx":-37},"encoding":{"x":{"datum":1.55,"type":"quantitative","scale":{"domain":[0.641,2.451],"nice":false,"zero":false},"axis":null},"y":{"datum":22.954,"type":"quantitative","scale":{"domain":[-1.05,21],"nice":false,"zero":false},"axis":null}}}
]}
],
"resolve":{"scale":{"x":"independent","y":"independent"}}}
]
}
